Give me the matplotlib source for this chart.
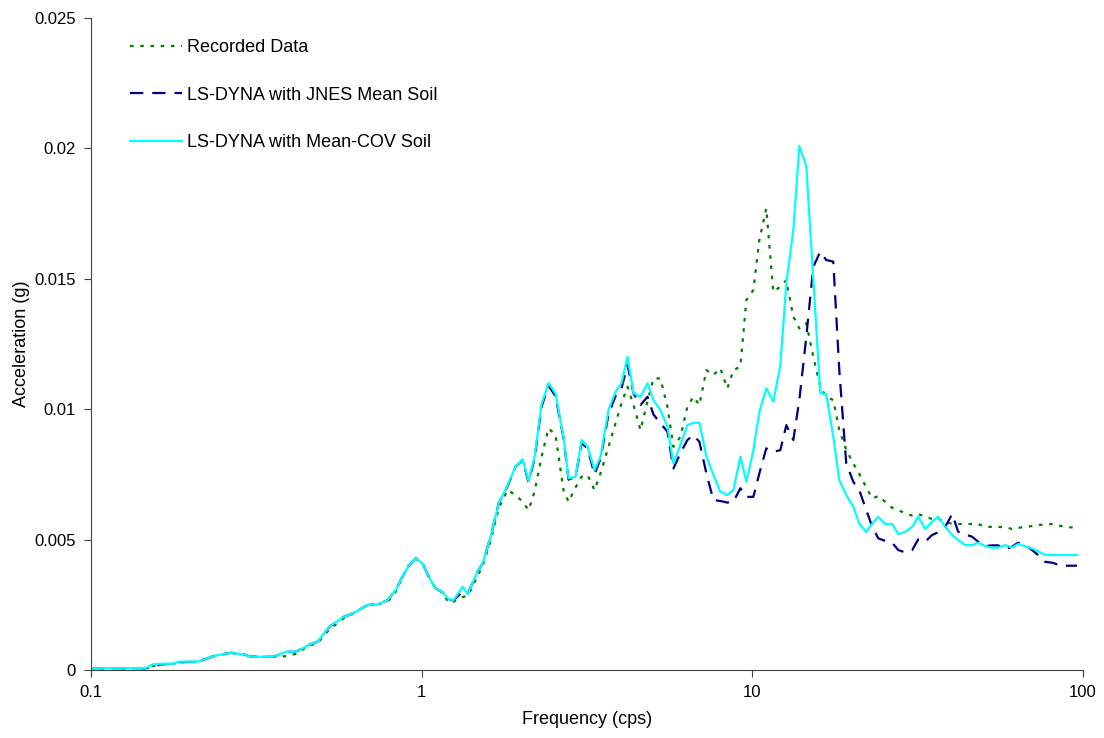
import matplotlib
matplotlib.use("Agg")
import matplotlib.pyplot as plt
from matplotlib.ticker import FixedLocator, NullLocator, FuncFormatter

plt.rcParams['font.family'] = ['Liberation Sans', 'DejaVu Sans']

# frequency (cps)
freq = [0.1, 0.1149, 0.1321, 0.1466, 0.1539, 0.1627, 0.1769, 0.1845, 0.2105, 0.2385,
        0.2649, 0.29, 0.3043, 0.3572, 0.3882, 0.4163, 0.4555, 0.4851, 0.5057, 0.531,
        0.5811, 0.6101, 0.6869, 0.7361, 0.7895, 0.8346, 0.8762, 0.9135, 0.9591, 1.007,
        1.05, 1.102, 1.157, 1.207, 1.249, 1.33, 1.377, 1.476, 1.529, 1.616,
        1.709, 1.819, 1.923, 2.02, 2.105, 2.195, 2.305, 2.419, 2.54, 2.685,
        2.781, 2.92, 3.044, 3.174, 3.332, 3.474, 3.673, 3.857, 4.021, 4.193,
        4.372, 4.59, 4.818, 5.023, 5.273, 5.536, 5.772, 6.059, 6.362, 6.633,
        6.917, 7.262, 7.624, 8.004, 8.403, 8.762, 9.2, 9.592, 10.07, 10.5,
        11.02, 11.57, 12.15, 12.67, 13.3, 13.87, 14.56, 15.29, 16.05, 16.73,
        17.57, 18.32, 19.23, 20.19, 21.05, 22.11, 23.05, 24.03, 25.23, 26.49,
        27.62, 28.99, 30.44, 31.74, 33.32, 34.98, 36.48, 38.3, 40.21, 41.93,
        44.02, 46.21, 48.18, 50.58, 53.11, 55.37, 58.13, 61.03, 63.63, 66.8,
        70.14, 73.12, 76.77, 81.17, 85.22, 90.09, 95.92]

# acceleration (g)
recorded = [0.00007, 0.00007, 0.00007, 0.00007, 0.00015, 0.00022, 0.00024, 0.0003, 0.00032, 0.00056,
            0.00066, 0.0006, 0.00051, 0.0005, 0.00053, 0.00062, 0.00093, 0.00103, 0.00133, 0.0016,
            0.00198, 0.00213, 0.00249, 0.00252, 0.00262, 0.003, 0.0036, 0.004, 0.00428, 0.00408,
            0.00358, 0.00313, 0.00298, 0.00258, 0.00262, 0.0028, 0.00284, 0.0036, 0.004, 0.00495,
            0.0062, 0.0069, 0.00671, 0.00645, 0.00613, 0.00684, 0.00818, 0.00927, 0.00901, 0.0069,
            0.00645, 0.007, 0.00741, 0.00748, 0.0069, 0.00754, 0.00856, 0.00946, 0.01023, 0.01086,
            0.01016, 0.0092, 0.0103, 0.01118, 0.01118, 0.0101, 0.00856, 0.00894, 0.0101, 0.01048,
            0.01016, 0.0115, 0.01131, 0.01157, 0.0108, 0.0115, 0.01163, 0.01419, 0.01457, 0.01649,
            0.0177, 0.0145, 0.0147, 0.01495, 0.01355, 0.0131, 0.0133, 0.01201, 0.01086, 0.01048,
            0.01035, 0.0092, 0.00845, 0.00792, 0.00752, 0.007, 0.00658, 0.00667, 0.00645, 0.00622,
            0.00613, 0.00601, 0.00592, 0.00598, 0.00588, 0.00579, 0.00579, 0.00569, 0.0056, 0.0056,
            0.0056, 0.0056, 0.0056, 0.00549, 0.00549, 0.00549, 0.00547, 0.00541, 0.00545, 0.00549,
            0.00552, 0.00556, 0.00558, 0.0056, 0.00553, 0.00547, 0.00547]

jnes_mean = [0.00007, 0.00007, 0.00007, 0.00007, 0.00012, 0.00022, 0.00024, 0.0003, 0.00032, 0.00056,
             0.00066, 0.0006, 0.00051, 0.00051, 0.0007, 0.0007, 0.00096, 0.00109, 0.0014, 0.0017,
             0.00204, 0.00213, 0.00249, 0.00252, 0.00268, 0.00307, 0.0036, 0.004, 0.00428, 0.00408,
             0.00358, 0.00313, 0.00298, 0.0027, 0.00268, 0.003, 0.00291, 0.00377, 0.00409, 0.00511,
             0.00639, 0.00705, 0.0078, 0.00805, 0.0072, 0.0081, 0.0101, 0.0109, 0.0105, 0.0089,
             0.0073, 0.0074, 0.0087, 0.0085, 0.0075, 0.0081, 0.0098, 0.0105, 0.0108, 0.0117,
             0.0106, 0.01016, 0.01048, 0.0098, 0.00946, 0.00914, 0.00773, 0.00831, 0.00882, 0.00901,
             0.00875, 0.00754, 0.00652, 0.00648, 0.00642, 0.00645, 0.00697, 0.00664, 0.00664, 0.00754,
             0.0085, 0.00837, 0.00843, 0.00939, 0.00882, 0.01035, 0.01278, 0.01546, 0.01604, 0.01572,
             0.01566, 0.0115, 0.00792, 0.00722, 0.0069, 0.00613, 0.00549, 0.00505, 0.00495, 0.00488,
             0.0046, 0.00451, 0.0046, 0.00501, 0.00492, 0.00518, 0.00528, 0.00549, 0.00598, 0.0053,
             0.0052, 0.00511, 0.00492, 0.00475, 0.00478, 0.00478, 0.00463, 0.00473, 0.00488, 0.0048,
             0.0046, 0.00441, 0.00415, 0.00411, 0.004, 0.004, 0.004]

mean_cov = [0.00007, 0.00007, 0.00007, 0.00008, 0.00022, 0.00024, 0.00024, 0.00032, 0.00032, 0.00056,
            0.00066, 0.0006, 0.00051, 0.00051, 0.0007, 0.0007, 0.00096, 0.00109, 0.0014, 0.0017,
            0.00204, 0.00213, 0.00249, 0.00252, 0.00268, 0.00307, 0.0036, 0.004, 0.00428, 0.00408,
            0.00358, 0.00313, 0.00298, 0.00272, 0.00268, 0.00319, 0.00291, 0.00377, 0.00409, 0.00511,
            0.00639, 0.00709, 0.0078, 0.00808, 0.00725, 0.00818, 0.0102, 0.011, 0.0106, 0.00894,
            0.00735, 0.00741, 0.00882, 0.00856, 0.00767, 0.00818, 0.00997, 0.01067, 0.011, 0.01201,
            0.01061, 0.01048, 0.011, 0.01035, 0.00997, 0.00933, 0.00792, 0.00863, 0.00939, 0.00948,
            0.00948, 0.00818, 0.00748, 0.00684, 0.00671, 0.0069, 0.00818, 0.00722, 0.00843, 0.0099,
            0.0108, 0.01029, 0.01169, 0.01483, 0.01687, 0.02009, 0.01932, 0.01495, 0.01061, 0.01058,
            0.00894, 0.00728, 0.00671, 0.00626, 0.00562, 0.0053, 0.00562, 0.00588, 0.0056, 0.0056,
            0.00521, 0.0053, 0.00549, 0.00588, 0.00541, 0.00569, 0.00588, 0.00549, 0.00518, 0.00498,
            0.00479, 0.00479, 0.00488, 0.00475, 0.00469, 0.00469, 0.00479, 0.0047, 0.00483, 0.00475,
            0.00466, 0.00456, 0.00441, 0.00441, 0.00441, 0.00441, 0.00441]

series_labels = ["Recorded Data", "LS-DYNA with JNES Mean Soil", "LS-DYNA with Mean-COV Soil"]

fig = plt.figure(figsize=(11.04, 7.38), dpi=100)
ax = fig.add_axes([0.0824, 0.0921, 0.8986, 0.8835])

ax.plot(freq, recorded, color="#008000", lw=1.6, linestyle=(0, (1.6, 3)), label=series_labels[0])
ax.plot(freq, jnes_mean, color="#000080", lw=1.6, linestyle=(0, (6, 4)), label=series_labels[1])
ax.plot(freq, mean_cov, color="#00FFFF", lw=1.6, label=series_labels[2])

ax.set_xscale("log")
ax.set_xlim(0.1, 100)
ax.set_ylim(0, 0.025)
ax.xaxis.set_major_locator(FixedLocator([0.1, 1, 10, 100]))
ax.xaxis.set_minor_locator(NullLocator())
ax.xaxis.set_major_formatter(FuncFormatter(lambda v, p: "%g" % v))
ax.yaxis.set_major_locator(FixedLocator([0, 0.005, 0.01, 0.015, 0.02, 0.025]))
ax.yaxis.set_major_formatter(FuncFormatter(lambda v, p: "%g" % v))

for s in ["top", "right"]:
    ax.spines[s].set_visible(False)
for s in ["left", "bottom"]:
    ax.spines[s].set_color("#404040")
ax.tick_params(direction="out", length=5, color="#404040", labelsize=12, pad=6)

ax.set_xlabel("Frequency (cps)", fontsize=13, labelpad=8)
ax.set_ylabel("Acceleration (g)", fontsize=13, labelpad=3)

ax.legend(loc="upper left", bbox_to_anchor=(0.039, 0.968), frameon=False, fontsize=13,
          handlelength=2.9, handletextpad=0.3, labelspacing=1.7, borderpad=0, borderaxespad=0)

fig.savefig("out.png", dpi=100)
